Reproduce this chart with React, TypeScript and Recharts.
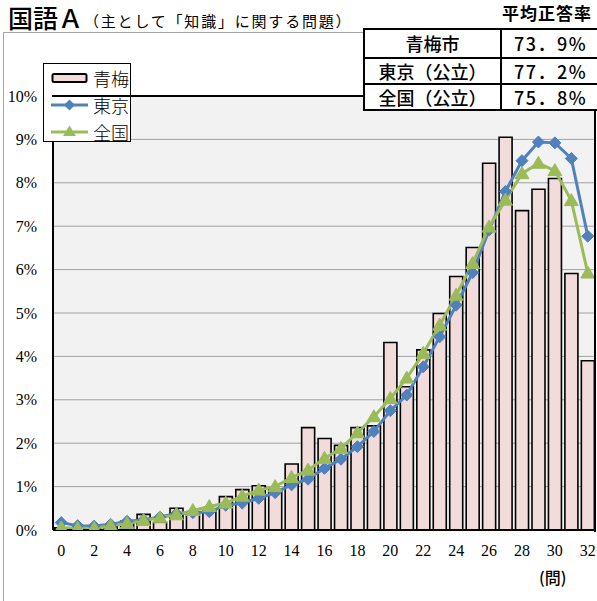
import React from 'react';
import { ComposedChart, Bar, Line, XAxis, YAxis, CartesianGrid, Legend } from 'recharts';

const questions = [0, 1, 2, 3, 4, 5, 6, 7, 8, 9, 10, 11, 12, 13, 14, 15, 16, 17, 18, 19, 20, 21, 22, 23, 24, 25, 26, 27, 28, 29, 30, 31, 32];
const omeValues = [0.05, 0.03, 0.03, 0.08, 0.2, 0.36, 0.18, 0.5, 0.42, 0.45, 0.77, 0.93, 1.02, 0.95, 1.52, 2.36, 2.11, 1.95, 2.36, 2.4, 4.32, 3.3, 4.15, 4.99, 5.84, 6.51, 8.45, 9.05, 7.36, 7.85, 8.1, 5.91, 3.9];
const tokyoValues = [0.17, 0.1, 0.09, 0.13, 0.2, 0.23, 0.3, 0.38, 0.4, 0.42, 0.57, 0.62, 0.73, 0.86, 1.04, 1.17, 1.42, 1.63, 1.92, 2.27, 2.75, 3.11, 3.76, 4.45, 5.18, 5.93, 6.91, 7.8, 8.51, 8.94, 8.92, 8.56, 6.77];
const nationalValues = [0.05, 0.04, 0.04, 0.1, 0.15, 0.22, 0.28, 0.35, 0.45, 0.54, 0.62, 0.78, 0.92, 1.0, 1.21, 1.38, 1.65, 1.88, 2.24, 2.61, 3.03, 3.5, 4.07, 4.72, 5.41, 6.14, 6.98, 7.6, 8.21, 8.45, 8.28, 7.59, 5.92];
const yTicks = [0, 1, 2, 3, 4, 5, 6, 7, 8, 9, 10];

const seriesNames = ['青梅', '東京', '全国'];
const tableRows = ['青梅市', '東京（公立）', '全国（公立）'];
const tableValues = ['73．9%', '77．2%', '75．8%'];

const data = questions.map((q, i) => ({
  q,
  ome: omeValues[i],
  tokyo: tokyoValues[i],
  national: nationalValues[i],
}));

const BAR_FILL = '#f2dcdb';
const BLUE = '#4f81bd';
const GREEN = '#9bbb59';
const JP = "'Noto Sans CJK JP', sans-serif";
const SERIF = 'Liberation Serif';

const DiamondDot = (props: any) => {
  const { cx, cy, index } = props;
  if (cx == null || cy == null) return <g key={`d${index}`} />;
  const r = 6;
  return (
    <path
      key={`d${index}`}
      d={`M${cx},${cy - r}L${cx + r},${cy}L${cx},${cy + r}L${cx - r},${cy}Z`}
      fill={BLUE}
      stroke={BLUE}
      strokeWidth={1}
    />
  );
};

const TriangleDot = (props: any) => {
  const { cx, cy, index } = props;
  if (cx == null || cy == null) return <g key={`t${index}`} />;
  return (
    <path
      key={`t${index}`}
      d={`M${cx},${cy - 7}L${cx + 7},${cy + 5}L${cx - 7},${cy + 5}Z`}
      fill={GREEN}
      stroke={GREEN}
      strokeWidth={1}
    />
  );
};

const XTick = (props: any) => {
  const { x, y, payload } = props;
  return (
    <text x={x} y={y} dy="0.71em" textAnchor="middle" fill="#000" fontSize={16} fontFamily={SERIF} style={{ fontFamily: SERIF }}>
      {payload.value}
    </text>
  );
};

const YTick = (props: any) => {
  const { x, y, payload } = props;
  return (
    <text x={x} y={y} dy="0.35em" textAnchor="end" fill="#000" fontSize={16} fontFamily={SERIF} style={{ fontFamily: SERIF }}>
      {`${payload.value}%`}
    </text>
  );
};

const LegendContent = () => (
  <div
    style={{
      width: 88,
      height: 79,
      boxSizing: 'border-box',
      border: '1.5px solid #000',
      background: '#fff',
      position: 'relative',
      fontFamily: JP,
      fontSize: 18,
      color: '#000',
    }}
  >
    {seriesNames.map((name, i) => (
      <div key={name} style={{ position: 'absolute', left: 7, top: 3 + i * 27, height: 22, display: 'flex', alignItems: 'center' }}>
        <svg width={37} height={20} style={{ display: 'block' }}>
          {i === 0 && <rect x={1.5} y={6} width={34} height={8} rx={1.5} fill={BAR_FILL} stroke="#000" strokeWidth={2} />}
          {i === 1 && (
            <g>
              <line x1={0} y1={10} x2={37} y2={10} stroke={BLUE} strokeWidth={3} />
              <path d="M18.5,4.5L24,10L18.5,15.5L13,10Z" fill={BLUE} />
            </g>
          )}
          {i === 2 && (
            <g>
              <line x1={0} y1={10} x2={37} y2={10} stroke={GREEN} strokeWidth={3} />
              <path d="M18.5,3.5L25,14L12,14Z" fill={GREEN} />
            </g>
          )}
        </svg>
        <span style={{ marginLeft: 5, lineHeight: '18px', fontWeight: 300 }}>{name}</span>
      </div>
    ))}
  </div>
);

export default function App() {
  return (
    <div style={{ position: 'absolute', left: 0, top: 0, width: 597, height: 601, overflow: 'hidden', background: '#fff' }}>
      {/* outer frame */}
      <div style={{ position: 'absolute', left: 3, top: 32, width: 700, height: 700, border: '1px solid #a6a6a6' }} />

      <div style={{ position: 'absolute', left: 0, top: 0, fontFamily: SERIF }}>
        <ComposedChart
          width={597}
          height={601}
          data={data}
          margin={{ top: 96, right: 1, bottom: 41, left: 0 }}
          barCategoryGap="11%"
        >
          <CartesianGrid vertical={false} stroke="#a0a0a0" fill="#f2f2f2" />
          <XAxis
            dataKey="q"
            interval={1}
            tickLine={false}
            tickSize={0}
            tickMargin={15}
            height={30}
            axisLine={{ stroke: '#000', strokeWidth: 2 }}
            tick={XTick}
          />
          <YAxis
            domain={[0, 10]}
            ticks={yTicks}
            width={53}
            tickLine={false}
            tickSize={0}
            tickMargin={16}
            axisLine={{ stroke: '#000', strokeWidth: 2 }}
            tick={YTick}
            allowDataOverflow
          />
          <Bar dataKey="ome" name={seriesNames[0]} fill={BAR_FILL} stroke="#000" strokeWidth={1.6} isAnimationActive={false} />
          <Line
            dataKey="tokyo"
            name={seriesNames[1]}
            type="linear"
            stroke={BLUE}
            strokeWidth={3}
            dot={DiamondDot}
            activeDot={false}
            isAnimationActive={false}
          />
          <Line
            dataKey="national"
            name={seriesNames[2]}
            type="linear"
            stroke={GREEN}
            strokeWidth={3}
            dot={TriangleDot}
            activeDot={false}
            isAnimationActive={false}
          />
          <Legend
            layout="vertical"
            align="center"
            verticalAlign="middle"
            content={LegendContent}
            wrapperStyle={{ left: 43, top: 63, width: 88, height: 79 }}
          />
        </ComposedChart>
      </div>

      {/* plot border top / right */}
      <div
        style={{
          position: 'absolute',
          left: 52,
          top: 95,
          width: 542,
          height: 435,
          borderTop: '2px solid #000',
          borderRight: '2px solid #000',
          pointerEvents: 'none',
        }}
      />

      {/* title */}
      <div style={{ position: 'absolute', left: 8, top: 5, fontFamily: JP, fontSize: 25, lineHeight: '25px', fontWeight: 500, color: '#000', whiteSpace: 'nowrap' }}>
        国語Ａ
      </div>
      <div style={{ position: 'absolute', left: 84, top: 13, fontFamily: JP, fontSize: 15, lineHeight: '15px', letterSpacing: 1.8, color: '#000', whiteSpace: 'nowrap' }}>
        （主として「知識」に関する問題）
      </div>
      <div style={{ position: 'absolute', left: 502, top: 4, fontFamily: JP, fontSize: 17, lineHeight: '17px', fontWeight: 700, letterSpacing: 1, color: '#000', whiteSpace: 'nowrap' }}>
        平均正答率
      </div>

      {/* table */}
      <div
        style={{
          position: 'absolute',
          left: 363,
          top: 28,
          width: 240,
          height: 83,
          boxSizing: 'border-box',
          border: '2px solid #000',
          background: '#fff',
          fontFamily: JP,
          color: '#000',
        }}
      >
        {tableRows.map((row, i) => (
          <div
            key={row}
            style={{
              position: 'absolute',
              left: 0,
              top: i * 26.5,
              width: 236,
              height: 26.5,
              boxSizing: 'border-box',
              borderTop: i > 0 ? '2px solid #000' : 'none',
              display: 'flex',
            }}
          >
            <div style={{ width: 135, borderRight: '2px solid #000', display: 'flex', alignItems: 'center', justifyContent: 'center', fontSize: 18, fontWeight: 500, lineHeight: '18px' }}>
              {row}
            </div>
            <div style={{ width: 97, display: 'flex', alignItems: 'center', justifyContent: 'center', fontSize: 18, fontWeight: 500, lineHeight: '18px', letterSpacing: 1.5 }}>
              {tableValues[i]}
            </div>
          </div>
        ))}
      </div>

      {/* x unit */}
      <div style={{ position: 'absolute', left: 539, top: 569, fontFamily: JP, fontSize: 16, lineHeight: '16px', fontWeight: 500, color: '#000', whiteSpace: 'nowrap' }}>
        (問)
      </div>
    </div>
  );
}
